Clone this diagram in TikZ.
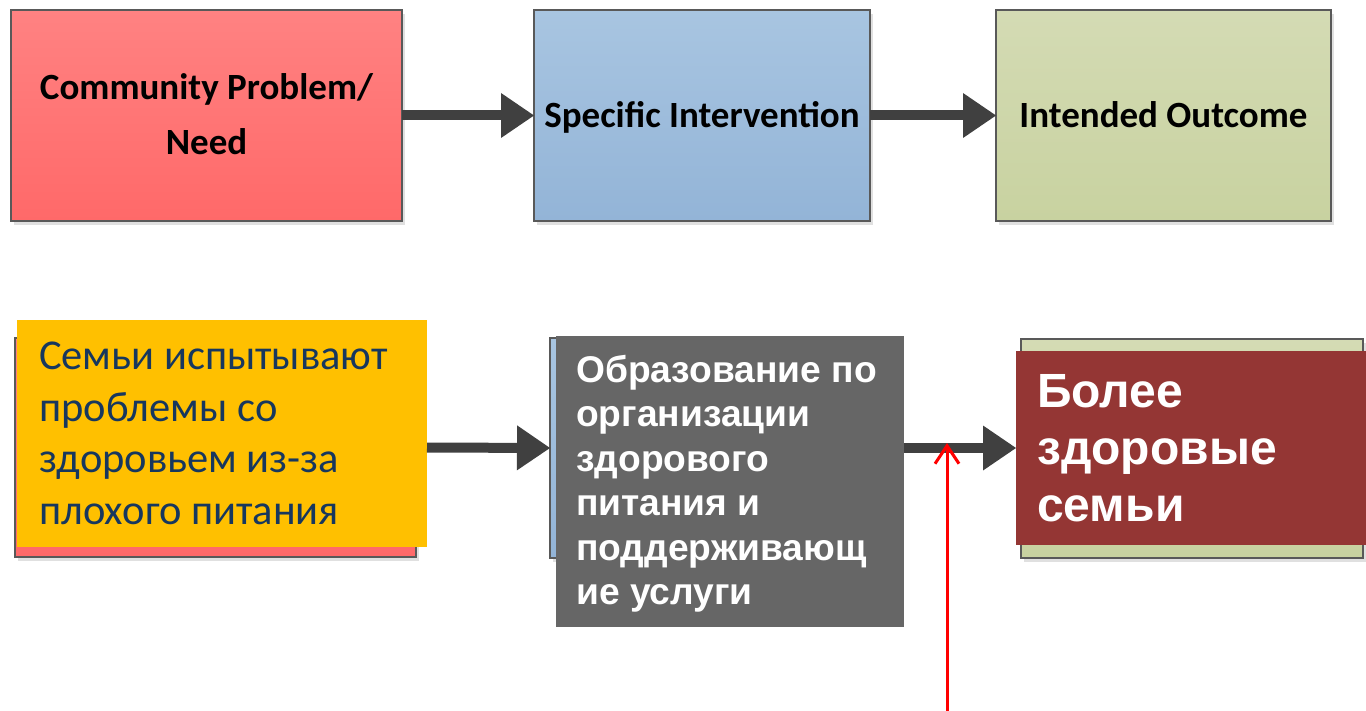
\documentclass[tikz,border=0pt]{standalone}
\usepackage{fontspec}
\setmainfont{Carlito}
\newfontfamily\arialfont{Liberation Sans}
\usetikzlibrary{arrows.meta,shadows}
\definecolor{redtop}{HTML}{FF8282}
\definecolor{redbot}{HTML}{FF6969}
\definecolor{bluetop}{HTML}{A8C5E1}
\definecolor{bluebot}{HTML}{93B4D7}
\definecolor{greentop}{HTML}{D4DBB4}
\definecolor{greenbot}{HTML}{C8D2A0}
\definecolor{boxline}{HTML}{595959}
\definecolor{arrowgray}{HTML}{404040}
\definecolor{yellowfill}{HTML}{FFC000}
\definecolor{navy}{HTML}{17375E}
\definecolor{grayfill}{HTML}{666666}
\definecolor{brownfill}{HTML}{943634}
\definecolor{arrowred}{HTML}{FF0000}
\begin{document}
\begin{tikzpicture}[x=1pt,y=-1pt,
  flowbox/.style={draw=boxline, line width=2pt, inner sep=0pt, outer sep=0pt, anchor=north west,
    drop shadow={shadow xshift=3pt, shadow yshift=-4pt, fill=black, opacity=0.12}},
  redbox/.style={flowbox, top color=redtop, bottom color=redbot},
  bluebox/.style={flowbox, top color=bluetop, bottom color=bluebot},
  greenbox/.style={flowbox, top color=greentop, bottom color=greenbot},
  overbox/.style={inner sep=0pt, outer sep=0pt, anchor=north west},
  flowarrow/.style={draw=arrowgray, fill=arrowgray, line width=10pt,
    -{Triangle[length=33pt, width=45pt, line width=0pt]}},
  redarrow/.style={draw=arrowred, line width=3pt, -{Straight Barb[length=18pt, width=24pt]}},
  toptext/.style={inner sep=0pt, anchor=base, font=\bfseries\fontsize{37}{55}\selectfont, text=black},
  yellowtext/.style={inner sep=0pt, anchor=base west, text width=395pt, align=flush left,
    font=\fontsize{42.5}{51.5}\selectfont, text=navy},
  graytext/.style={inner sep=0pt, anchor=base west, text width=330pt, align=flush left,
    font=\arialfont\bfseries\fontsize{37.2}{44.6}\selectfont, text=white},
  browntext/.style={inner sep=0pt, anchor=base west, text width=320pt, align=flush left,
    font=\arialfont\bfseries\fontsize{48}{57.5}\selectfont, text=white}
]
\useasboundingbox[fill=white] (0,0) rectangle (1366,711);

% top row
\node[redbox, minimum width=391pt, minimum height=211pt] (need) at (11,10) {};
\node[bluebox, minimum width=336pt, minimum height=211pt] (interv) at (534,10) {};
\node[greenbox, minimum width=335pt, minimum height=211pt] (outcome) at (996,10) {};
\node[toptext] (needtxt1) at (206.5,100) {Community Problem/};
\node[toptext] (needtxt2) at (206.5,155) {Need};
\node[toptext] (intervtxt) at (702,128) {Specific Intervention};
\node[toptext] (outcometxt) at (1163.5,128) {Intended Outcome};
\draw[flowarrow] (need.east) -- (interv.west);
\draw[flowarrow] (interv.east) -- (outcome.west);

% bottom row, underlying boxes
\node[redbox, minimum width=401pt, minimum height=219pt] (needb) at (15,338) {};
\node[bluebox, minimum width=345pt, minimum height=220pt] (intervb) at (550,338) {};
\node[greenbox, minimum width=342pt, minimum height=219pt] (outcomeb) at (1021,339) {};

% overlay boxes
\node[overbox, fill=yellowfill, minimum width=410pt, minimum height=227pt] (families) at (17,320) {};
\node[overbox, fill=grayfill, minimum width=348pt, minimum height=291pt] (education) at (556,336) {};
\node[overbox, fill=brownfill, minimum width=350pt, minimum height=194pt] (healthier) at (1016,351) {};

\draw[flowarrow] (families.east |- needb.east) -- (intervb.west);
\draw[flowarrow] (education.east |- healthier.west) -- (healthier.west);

\node[yellowtext] (familiestxt) at (39,370) {Семьи испытывают\\проблемы со\\здоровьем из-за\\плохого питания};
\node[graytext] (educationtxt) at (576,382) {Образование по\\организации\\здорового\\питания и\\поддерживающ\\ие услуги};
\node[browntext] (healthiertxt) at (1037,407) {Более\\здоровые\\семьи};

% red pointer
\coordinate (pointerstart) at (947,711);
\coordinate (pointertip) at (947,443);
\draw[redarrow] (pointerstart) -- (pointertip);
\end{tikzpicture}
\end{document}
